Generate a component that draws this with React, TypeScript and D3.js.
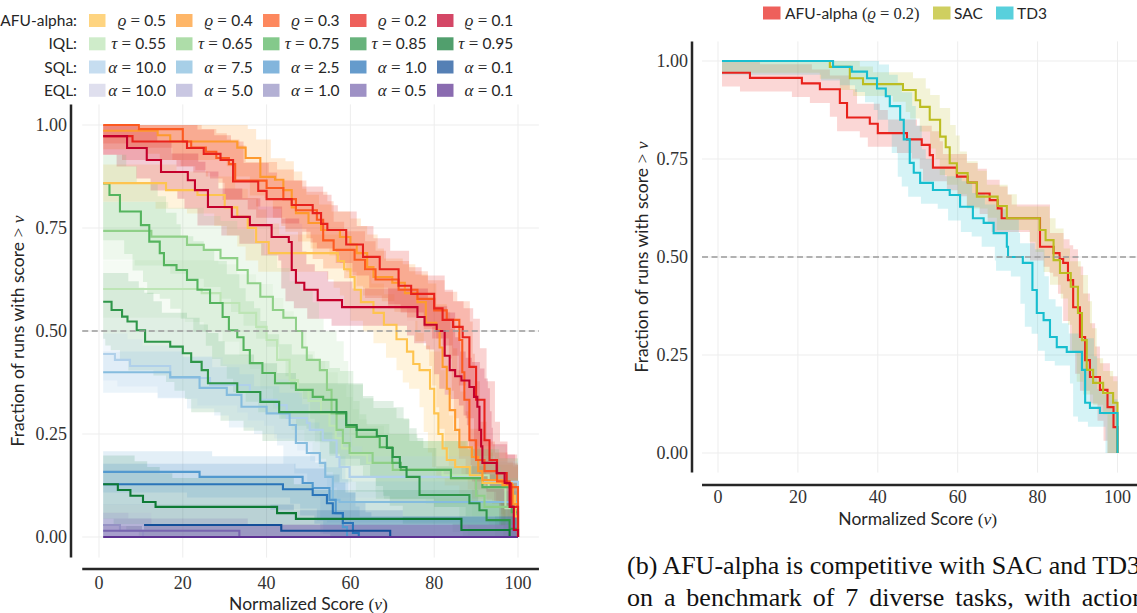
import React from 'react';
import * as d3 from 'd3';

type Pt = [number, number];

// ---------------- Legend labels ----------------
const afuLabels = ['0.5', '0.4', '0.3', '0.2', '0.1'];
const iqlLabels = ['0.55', '0.65', '0.75', '0.85', '0.95'];
const sqlLabels = ['10.0', '7.5', '2.5', '1.0', '0.1'];
const eqlLabels = ['10.0', '5.0', '1.0', '0.5', '0.1'];

const afuColors = ['#fec44f', '#fe9a2e', '#fc5a20', '#e8221c', '#c4002b'];
const iqlColors = ['#bde5b5', '#8fd088', '#55b45e', '#2e9649', '#0e7a35'];
const sqlColors = ['#b0d0ea', '#85bcde', '#5299cf', '#2a75b9', '#144f99'];
const eqlColors = ['#d3d3e7', '#b4b2d7', '#9591c4', '#7866af', '#5d3292'];

const xTicks = [0, 20, 40, 60, 80, 100];
const yTicks = [0, 0.25, 0.5, 0.75, 1.0];

// ---------------- Left panel: performance profiles ----------------
const afuRho05: Pt[] = [[1,0.859],[16,0.842],[23.5,0.83],[30,0.8],[33,0.777],[35.5,0.75],[37.5,0.716],[40.5,0.689],[57,0.67],[58.5,0.65],[60,0.631],[61,0.6],[62.5,0.57],[65.5,0.544],[68,0.515],[71,0.48],[73.5,0.45],[75,0.42],[76.5,0.405],[79,0.36],[80,0.3],[81,0.25],[82,0.215],[83,0.187],[85,0.17],[88.5,0.15],[91.5,0.131],[98.5,0.1],[99.3,0.05],[100,0]];
const afuRho04: Pt[] = [[1,0.986],[14,0.975],[17,0.96],[33,0.945],[35,0.92],[38.5,0.874],[42,0.867],[44,0.842],[46,0.8],[47,0.786],[50,0.762],[53,0.745],[57.5,0.728],[60,0.71],[61.5,0.689],[64,0.655],[65.5,0.631],[70,0.617],[73,0.592],[76,0.57],[78,0.52],[80.5,0.502],[81.3,0.46],[82,0.413],[83,0.36],[83.7,0.308],[85,0.26],[86,0.218],[89,0.194],[90.5,0.16],[91.5,0.138],[96.3,0.126],[98.8,0.08],[100,0]];
const afuRho03: Pt[] = [[1,1],[9.5,0.99],[20,0.96],[22,0.945],[25.5,0.935],[28,0.92],[31,0.905],[32.5,0.865],[40,0.847],[44,0.82],[47,0.793],[52,0.77],[53.5,0.72],[56,0.697],[61,0.673],[63.5,0.65],[66,0.625],[71.5,0.6],[76,0.578],[80,0.55],[83,0.527],[86,0.478],[86.7,0.4],[87.2,0.333],[88.4,0.235],[90,0.187],[92,0.16],[95,0.135],[98,0.121],[99.3,0.121],[100,0]];
const afuRho02: Pt[] = [[1,0.973],[8,0.96],[21,0.944],[25,0.93],[29,0.915],[32,0.863],[38,0.84],[40,0.82],[46,0.806],[51,0.786],[53,0.76],[54.5,0.745],[59,0.71],[63,0.68],[67,0.65],[71.5,0.61],[74.5,0.59],[80,0.555],[82,0.527],[84.5,0.51],[86.8,0.485],[88.4,0.413],[90,0.333],[92,0.235],[93.2,0.187],[95,0.155],[97.3,0.13],[98.4,0.073],[100,0]];
const afuRho01: Pt[] = [[1,0.973],[6.7,0.944],[11.4,0.915],[14.8,0.886],[21.2,0.866],[22.9,0.842],[26,0.801],[31.7,0.777],[36,0.757],[41.2,0.728],[45.3,0.716],[46,0.648],[47,0.617],[49,0.6],[52.2,0.575],[58,0.558],[76,0.534],[77.7,0.515],[80.6,0.5],[82.5,0.44],[83.7,0.405],[85,0.39],[86.5,0.38],[88.4,0.364],[89.5,0.34],[90.3,0.316],[90.8,0.26],[91.2,0.22],[91.5,0.18],[94.9,0.155],[96.8,0.131],[98,0.073],[99,0.017],[100,0]];

const iqlTau055: Pt[] = [[1,0.602],[24.5,0.592],[29,0.568],[33.5,0.544],[37.5,0.51],[40,0.478],[42.5,0.43],[45.5,0.381],[47.5,0.357],[50,0.33],[53,0.3],[55,0.27],[56.5,0.24],[58,0.215],[60,0.2],[64,0.18],[70,0.163],[82,0.15],[93,0.12],[97,0.07],[100,0]];
const iqlTau065: Pt[] = [[1,0.743],[12.5,0.729],[21,0.709],[25,0.697],[29,0.677],[33,0.648],[35.5,0.616],[38.5,0.583],[41.5,0.551],[44,0.532],[47,0.5],[48.5,0.46],[49.6,0.43],[52.7,0.405],[54.4,0.357],[55.5,0.3],[56.7,0.26],[58.2,0.228],[59.8,0.204],[65.3,0.18],[70.1,0.163],[84,0.143],[90,0.1],[92,0.073],[98.5,0.073],[100,0]];
const iqlTau075: Pt[] = [[1,0.858],[2.5,0.83],[5,0.79],[10,0.757],[12,0.717],[14.5,0.689],[15.5,0.66],[18.5,0.648],[21,0.624],[23.5,0.6],[26.5,0.568],[29.5,0.534],[31,0.502],[33,0.485],[34.5,0.454],[36,0.422],[39,0.398],[42,0.373],[47,0.357],[51,0.34],[53.5,0.333],[56.7,0.3],[59,0.267],[61.5,0.243],[67,0.218],[70,0.18],[72,0.163],[84,0.143],[91.5,0.121],[98.5,0.06],[100,0]];
const iqlTau085: Pt[] = [[1,0.571],[3,0.551],[5.5,0.535],[6.8,0.523],[9,0.502],[11,0.474],[17,0.462],[20,0.446],[22,0.425],[24.5,0.405],[26,0.373],[33,0.352],[38.5,0.328],[43,0.303],[59,0.272],[61.5,0.26],[66.3,0.245],[68.7,0.216],[70.1,0.194],[71.8,0.17],[73.4,0.146],[76.5,0.102],[88.4,0.082],[90.8,0.065],[92.5,0.041],[98,0.02],[100,0]];
const iqlTau095: Pt[] = [[1,0.128],[4.5,0.114],[7.5,0.1],[10.5,0.085],[13.5,0.073],[42.5,0.058],[47,0.044],[86.5,0.017],[98,0],[100,0]];

const sqlAlpha10: Pt[] = [[1,0.444],[3.8,0.43],[7.4,0.415],[17,0.386],[26.5,0.369],[36,0.352],[38.5,0.333],[42.4,0.32],[44.8,0.289],[49.6,0.277],[50.3,0.26],[53.4,0.235],[56.7,0.194],[57.4,0.17],[59.8,0.146],[91.5,0.134],[98.8,0.134],[100,0]];
const sqlAlpha75: Pt[] = [[1,0.4],[17,0.388],[24,0.362],[30.5,0.345],[34,0.316],[40,0.3],[45.5,0.272],[47,0.228],[49.6,0.204],[52.7,0.18],[54,0.146],[55.8,0.09],[57.4,0.085],[98.5,0.085],[100,0]];
const sqlAlpha25: Pt[] = [[1,0.158],[24,0.146],[48.6,0.131],[51,0.119],[55,0.09],[56.5,0.058],[58.2,0.024],[59.2,0],[100,0]];
const sqlAlpha10b: Pt[] = [[1,0.128],[43.9,0.116],[51,0.102],[54.4,0.082],[55.8,0.058],[58.2,0.034],[60.6,0.01],[62,0],[100,0]];
const sqlAlpha01: Pt[] = [[1,0.029],[43.5,0.015],[69.5,0],[100,0]];

const eqlAlpha10: Pt[] = [[1,0],[100,0]];
const eqlAlpha50: Pt[] = [[1,0.029],[10.5,0],[100,0]];
const eqlAlpha1: Pt[] = [[1,0.029],[5,0.015],[10.5,0],[100,0]];
const eqlAlpha05: Pt[] = [[1,0.015],[33.5,0],[100,0]];
const eqlAlpha01: Pt[] = [[1,0],[100,0]];

// band half-widths [dx in score units, dy in fraction]
const afuBand: Pt = [2.5, 0.045];
const iqlBand: Pt = [4, 0.07];
const sqlBand: Pt = [3, 0.05];
const eqlBand: Pt = [2, 0.03];

// ---------------- Right panel ----------------
const rightNames = ['AFU-alpha', 'SAC', 'TD3'];
const rightColors = ['#e8221c', '#bcbd22', '#17becf'];
const rightAfu: Pt[] = [[1,0.97],[8,0.957],[21,0.943],[25.5,0.928],[30.5,0.893],[32.3,0.856],[38,0.84],[40,0.816],[47.3,0.8],[51,0.786],[53,0.76],[53.8,0.728],[59.8,0.705],[62.5,0.69],[64.8,0.662],[68,0.645],[70,0.624],[71,0.599],[80.6,0.526],[84,0.51],[85.5,0.495],[86.4,0.485],[87.6,0.441],[88.9,0.372],[90.6,0.296],[91.9,0.237],[93.1,0.194],[95.6,0.161],[97.5,0.117],[99,0.066],[100,0]];
const rightSac: Pt[] = [[1,1],[28,0.985],[33,0.956],[36.3,0.941],[46.3,0.926],[49.5,0.9],[50.6,0.883],[53,0.85],[55.6,0.807],[57,0.78],[58,0.739],[59.8,0.714],[62.5,0.69],[64.8,0.654],[70,0.63],[72.3,0.599],[80.5,0.569],[82,0.543],[84,0.492],[85.6,0.459],[88.3,0.424],[90.1,0.357],[91.1,0.288],[92.3,0.212],[93.9,0.179],[96.4,0.153],[98.9,0.128],[100,0]];
const rightTd3: Pt[] = [[1,1],[28.8,0.985],[33.5,0.973],[37.3,0.956],[39.8,0.93],[42,0.91],[43,0.885],[45.6,0.85],[46.5,0.8],[48,0.74],[49,0.715],[50.6,0.689],[53.8,0.671],[58,0.658],[60.6,0.628],[63.8,0.599],[66.5,0.587],[69,0.561],[72.3,0.526],[72.6,0.5],[76.3,0.485],[78.7,0.416],[79.8,0.357],[81.5,0.339],[83.1,0.296],[84.8,0.27],[87.3,0.258],[91.1,0.212],[91.9,0.128],[93.1,0.115],[95.6,0.102],[99,0.102],[100,0]];
const rightBands: Pt[] = [[2.5, 0.035], [2.5, 0.03], [3, 0.035]];

// ---------------- helpers ----------------
const SANS = "Lato, 'Open Sans', 'DejaVu Sans', sans-serif";
const SERIF = "'Liberation Serif', 'DejaVu Serif', serif";
const TXT = '#262626';

function stepVerts(pts: Pt[]): Pt[] {
  const v: Pt[] = [];
  pts.forEach((p, i) => {
    v.push(p);
    if (i < pts.length - 1) v.push([pts[i + 1][0], p[1]]);
  });
  return v;
}

function bandPoly(pts: Pt[], dx: number, dy: number): Pt[] {
  const v = stepVerts(pts);
  const x0 = pts[0][0];
  const xe = pts[pts.length - 1][0];
  const up: Pt[] = [[x0, Math.min(1, pts[0][1] + dy)], ...v.map(([x, y]) => [Math.min(xe, x + dx), Math.min(1, y + dy)] as Pt), [xe, 0]];
  const lo: Pt[] = v.map(([x, y]) => [Math.max(x0, x - dx), Math.max(0, y - dy)] as Pt).reverse();
  return up.concat(lo);
}

type Series = { data: Pt[]; color: string; band: Pt; op: number };

function Panel({ series, xs, ys, order }: any) {
  const line = d3.line<Pt>().x(d => xs(d[0])).y(d => ys(d[1])).curve(d3.curveStepAfter);
  const poly = d3.line<Pt>().x(d => xs(d[0])).y(d => ys(d[1]));
  return (
    <g>
      {series.map((s: Series, i: number) => (
        <path key={'b' + i} d={poly(bandPoly(s.data, s.band[0], s.band[1])) + 'Z'} fill={s.color} fillOpacity={s.op} stroke="none" />
      ))}
      {order.map((i: number) => (
        <path key={'l' + i} d={line(series[i].data) || ''} fill="none" stroke={series[i].color} strokeWidth={2.1} strokeLinejoin="miter" />
      ))}
    </g>
  );
}

function Grid({ xs, ys, xExt, yExt }: any) {
  return (
    <g>
      {xTicks.map(t => (
        <line key={'gx' + t} x1={xs(t)} x2={xs(t)} y1={ys(yExt[0])} y2={ys(yExt[1])} stroke="#ededed" strokeWidth={1} />
      ))}
      {yTicks.map(t => (
        <line key={'gy' + t} x1={xs(xExt[0])} x2={xs(xExt[1])} y1={ys(t)} y2={ys(t)} stroke="#ededed" strokeWidth={1} />
      ))}
    </g>
  );
}

function Axes({ xs, ys, xExt, yExt, ySpineX, xSpineY, yLabX, xLabY, xTitleY, yTitleX }: any) {
  const xMid = (xs(0) + xs(100)) / 2;
  const yMid = ys(0.5);
  return (
    <g>
      <line x1={xs(xExt[0])} x2={xs(xExt[1])} y1={ys(0.5)} y2={ys(0.5)} stroke="#9a9a9a" strokeWidth={1.5} strokeDasharray="6,3.5" />
      <line x1={ySpineX} x2={ySpineX} y1={ys(yExt[1])} y2={ys(yExt[0])} stroke="#262626" strokeWidth={2.5} />
      <line x1={xs(xExt[0])} x2={xs(xExt[1])} y1={xSpineY} y2={xSpineY} stroke="#262626" strokeWidth={2.5} />
      {xTicks.map(t => (
        <text key={'xt' + t} x={xs(t)} y={xLabY} textAnchor="middle" fontFamily={SERIF} fontSize={18} fill="#333">{t}</text>
      ))}
      {yTicks.map(t => (
        <text key={'yt' + t} x={yLabX} y={ys(t) + 6} textAnchor="end" fontFamily={SERIF} fontSize={18} fill="#333">{t.toFixed(2)}</text>
      ))}
      <text x={xMid} y={xTitleY} textAnchor="middle" fontFamily={SANS} fontSize={17.5} fill={TXT}>
        Normalized Score <tspan fontFamily={SERIF}>(</tspan><tspan fontFamily={SERIF} fontStyle="italic">ν</tspan><tspan fontFamily={SERIF}>)</tspan>
      </text>
      <text transform={`translate(${yTitleX},${yMid}) rotate(-90)`} textAnchor="middle" fontFamily={SANS} fontSize={17.5} fill={TXT}>
        Fraction of runs with score <tspan fontFamily={SERIF}>{'>\u00A0'}</tspan><tspan fontFamily={SERIF} fontStyle="italic">ν</tspan>
      </text>
    </g>
  );
}

export default function App() {
  const xL = d3.scaleLinear().domain([0, 100]).range([99, 518]);
  const yL = d3.scaleLinear().domain([0, 1]).range([537, 125]);
  const xR = d3.scaleLinear().domain([0, 100]).range([718, 1117.5]);
  const yR = d3.scaleLinear().domain([0, 1]).range([453, 61]);
  const xExt = [-4, 105];
  const yExt = [-0.05, 1.05];

  const afuData = [afuRho05, afuRho04, afuRho03, afuRho02, afuRho01];
  const iqlData = [iqlTau055, iqlTau065, iqlTau075, iqlTau085, iqlTau095];
  const sqlData = [sqlAlpha10, sqlAlpha75, sqlAlpha25, sqlAlpha10b, sqlAlpha01];
  const eqlData = [eqlAlpha10, eqlAlpha50, eqlAlpha1, eqlAlpha05, eqlAlpha01];

  const left: Series[] = [
    ...afuData.map((d, i) => ({ data: d, color: afuColors[i], band: afuBand, op: 0.2 })),
    ...iqlData.map((d, i) => ({ data: d, color: iqlColors[i], band: iqlBand, op: 0.15 })),
    ...sqlData.map((d, i) => ({ data: d, color: sqlColors[i], band: sqlBand, op: 0.16 })),
    ...eqlData.map((d, i) => ({ data: d, color: eqlColors[i], band: eqlBand, op: 0.18 })),
  ];
  // line drawing order: SQL, IQL, EQL, AFU
  const leftOrder = [10, 11, 12, 13, 14, 5, 6, 7, 8, 9, 15, 16, 17, 18, 19, 0, 1, 2, 3, 4];

  const right: Series[] = [rightAfu, rightSac, rightTd3].map((d, i) => ({ data: d, color: rightColors[i], band: rightBands[i], op: 0.18 }));

  const groups = [
    { name: 'AFU-alpha:', sym: 'ϱ', labels: afuLabels, colors: afuColors },
    { name: 'IQL:', sym: 'τ', labels: iqlLabels, colors: iqlColors },
    { name: 'SQL:', sym: 'α', labels: sqlLabels, colors: sqlColors },
    { name: 'EQL:', sym: 'α', labels: eqlLabels, colors: eqlColors },
  ];
  const rowY = [20.5, 43.8, 67, 90.3];

  const rightLegend = [
    { sw: 763, tx: 785 },
    { sw: 933, tx: 954 },
    { sw: 996, tx: 1017 },
  ];

  return (
    <svg width={1137} height={613} style={{ position: 'absolute', left: 0, top: 0, background: '#fff' }}>
      <rect x={0} y={0} width={1137} height={613} fill="#fff" />
      {/* Left legend */}
      {groups.map((g, r) => (
        <g key={'lg' + r}>
          <text x={77} y={rowY[r] + 5.5} textAnchor="end" fontFamily={SANS} fontSize={15.5} fill={TXT}>{g.name}</text>
          {g.labels.map((lab, j) => (
            <g key={j}>
              <rect x={89 + j * 87} y={rowY[r] - 6.5} width={16.5} height={13} fill={g.colors[j]} fillOpacity={0.72} />
              <text x={166 + j * 86.8} y={rowY[r] + 5.5} textAnchor="end" fontSize={15.5} fill={TXT} fontFamily={SANS}>
                <tspan fontFamily={SERIF} fontStyle="italic" fontSize={17}>{g.sym}</tspan>
                <tspan fontFamily={SERIF} fontSize={17}>{'\u00A0=\u00A0'}</tspan>
                <tspan>{lab}</tspan>
              </text>
            </g>
          ))}
        </g>
      ))}

      {/* Left panel */}
      <Grid xs={xL} ys={yL} xExt={xExt} yExt={yExt} />
      <Panel series={left} xs={xL} ys={yL} order={leftOrder} />
      <Axes xs={xL} ys={yL} xExt={xExt} yExt={yExt} ySpineX={71} xSpineY={569} yLabX={67} xLabY={589} xTitleY={610} yTitleX={24} />

      {/* Right legend */}
      {rightNames.map((n, i) => (
        <g key={'rl' + i}>
          <rect x={rightLegend[i].sw} y={6.5} width={17.5} height={13} fill={rightColors[i]} fillOpacity={0.72} />
          <text x={rightLegend[i].tx} y={18.5} fontFamily={SANS} fontSize={15.5} fill={TXT}>
            {n}
            {i === 0 ? (
              <>
                <tspan fontFamily={SERIF} fontSize={16.5}>{'\u00A0('}</tspan>
                <tspan fontFamily={SERIF} fontStyle="italic" fontSize={16.5}>ϱ</tspan>
                <tspan fontFamily={SERIF} fontSize={16.5}>{'\u00A0=\u00A00.2)'}</tspan>
              </>
            ) : null}
          </text>
        </g>
      ))}

      {/* Right panel */}
      <Grid xs={xR} ys={yR} xExt={xExt} yExt={yExt} />
      <Panel series={right} xs={xR} ys={yR} order={[0, 1, 2]} />
      <Axes xs={xR} ys={yR} xExt={xExt} yExt={yExt} ySpineX={692} xSpineY={485} yLabX={688} xLabY={503} xTitleY={525} yTitleX={648} />

      {/* Caption (cut at the right edge, as in the source figure) */}
      <text x={627} y={574} fontFamily={SERIF} fontSize={26} fill="#111">(b) AFU-alpha is competitive with SAC and TD3</text>
      <text x={627} y={606} fontFamily={SERIF} fontSize={26} fill="#111" wordSpacing={4.4}>on a benchmark of 7 diverse tasks, with action</text>
    </svg>
  );
}
